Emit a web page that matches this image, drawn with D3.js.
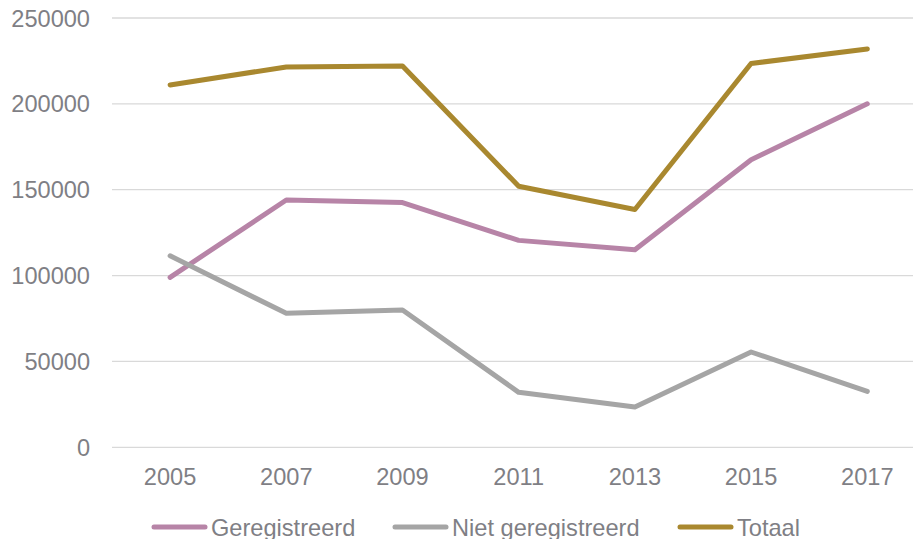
<!DOCTYPE html>
<html>
<head>
<meta charset="utf-8">
<script src="https://cdn.jsdelivr.net/npm/d3@7"></script>
<style>
  body { margin: 0; background: #fff; }
  text { font-family: "Liberation Sans", Arial, sans-serif; fill: #7f7f85; }
</style>
</head>
<body>
<svg id="chart"></svg>
<script>
var years = ["2005", "2007", "2009", "2011", "2013", "2015", "2017"];
var geregistreerd = [99000, 144000, 142500, 120500, 115000, 167500, 200000];
var nietGeregistreerd = [111500, 78000, 80000, 32000, 23500, 55500, 32500];
var totaal = [211000, 221500, 222000, 152000, 138500, 223500, 232000];
var yTicks = [0, 50000, 100000, 150000, 200000, 250000];

var series = [
  {name: "Geregistreerd", values: geregistreerd, color: "#b784a7"},
  {name: "Niet geregistreerd", values: nietGeregistreerd, color: "#a5a5a5"},
  {name: "Totaal", values: totaal, color: "#a9882f"}
];

var w = 913, h = 539;
var plotLeft = 112, plotW = 813.4, plotTop = 18, plotBottom = 447.3;

var svg = d3.select("#chart")
    .attr("width", w)
    .attr("height", h);

var x = d3.scalePoint()
    .domain(years)
    .range([plotLeft, plotLeft + plotW])
    .padding(0.5);
var y = d3.scaleLinear()
    .domain([0, 250000])
    .range([plotBottom, plotTop]);

// gridlines
svg.append("g").selectAll("line")
    .data(yTicks)
    .join("line")
    .attr("x1", plotLeft)
    .attr("x2", w)
    .attr("y1", d => y(d))
    .attr("y2", d => y(d))
    .attr("stroke", "#d9d9d9")
    .attr("stroke-width", 1.3);

// y labels
svg.append("g").selectAll("text")
    .data(yTicks)
    .join("text")
    .attr("x", 90)
    .attr("y", d => y(d) + 8.5)
    .attr("text-anchor", "end")
    .attr("font-size", "23.6px")
    .text(d => d);

// x labels
svg.append("g").selectAll("text")
    .data(years)
    .join("text")
    .attr("x", d => x(d))
    .attr("y", 484.5)
    .attr("text-anchor", "middle")
    .attr("font-size", "23.6px")
    .text(d => d);

var line = d3.line()
    .x((d, i) => x(years[i]))
    .y(d => y(d));

svg.append("g").selectAll("path")
    .data(series)
    .join("path")
    .attr("d", d => line(d.values))
    .attr("fill", "none")
    .attr("stroke", d => d.color)
    .attr("stroke-width", 5)
    .attr("stroke-linecap", "round")
    .attr("stroke-linejoin", "round");

// legend
var legendX = [154, 395, 680];
var leg = svg.append("g").selectAll("g")
    .data(series)
    .join("g")
    .attr("transform", (d, i) => `translate(${legendX[i]}, 527)`);
leg.append("line")
    .attr("x1", 0)
    .attr("x2", 51)
    .attr("stroke", d => d.color)
    .attr("stroke-width", 5)
    .attr("stroke-linecap", "round");
leg.append("text")
    .attr("x", 57)
    .attr("y", 8.5)
    .attr("font-size", "23.6px")
    .text(d => d.name);
</script>
</body>
</html>
